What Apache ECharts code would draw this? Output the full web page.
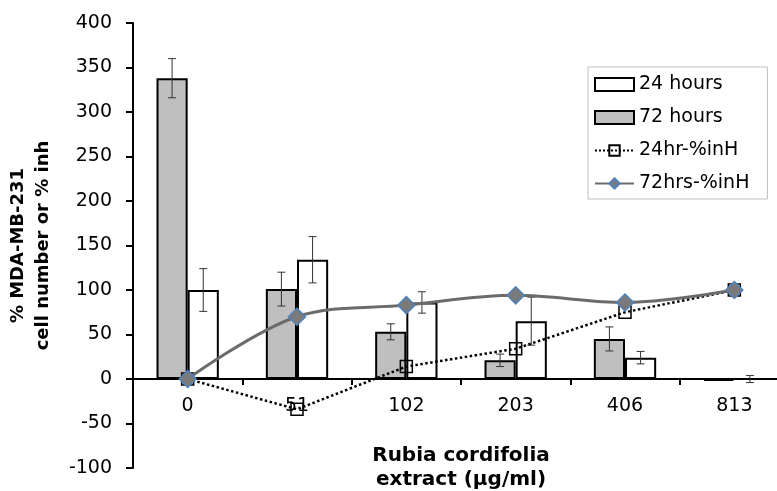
<!DOCTYPE html>
<html>
<head>
<meta charset="utf-8">
<script src="https://cdn.jsdelivr.net/npm/echarts@6/dist/echarts.min.js"></script>
<style>
html,body{margin:0;padding:0;background:#fff;}
#chart{width:777px;height:491px;}
</style>
</head>
<body>
<div id="chart"></div>
<script>
var categories = ['0', '51', '102', '203', '406', '813'];
var hours72 = [338, 101, 53, 21, 45, -2];
var hours72Err = [22, 19, 9, 7, 13.5, 0];
var hours24 = [100, 134, 86, 65, 24, 0];
var hours24Err = [24, 26, 12, 27, 7, 4];
var inh24 = [0, -34, 14, 34, 75, 100];
var inh72 = [0, 70, 83, 94, 86, 100];
var yTicks = { min: -100, max: 400, interval: 50 };

var FONT = 'DejaVu Sans';
var BAR_FRAC = 0.285; // bar width as fraction of category band

function errData(vals, errs) {
  return vals.map(function (v, i) { return [i, v, errs[i]]; });
}
function errRender(sign) {
  return function (params, api) {
    var i = api.value(0), v = api.value(1), e = api.value(2);
    if (!e) return null;
    var band = api.size([1, 0])[0];
    var c = api.coord([i, v]);
    var x = c[0] + sign * band * BAR_FRAC / 2;
    var hi = api.coord([i, v + e])[1];
    var lo = api.coord([i, v - e])[1];
    var cap = 4;
    var st = { stroke: '#333', lineWidth: 1 };
    return {
      type: 'group',
      children: [
        { type: 'line', shape: { x1: x, y1: hi, x2: x, y2: lo }, style: st },
        { type: 'line', shape: { x1: x - cap, y1: hi, x2: x + cap, y2: hi }, style: st },
        { type: 'line', shape: { x1: x - cap, y1: lo, x2: x + cap, y2: lo }, style: st }
      ]
    };
  };
}

var chart = echarts.init(document.getElementById('chart'), null, { renderer: 'canvas' });
chart.setOption({
  animation: false,
  backgroundColor: '#fff',
  grid: { left: 133, right: -12, top: 23, bottom: 23, containLabel: false, outerBoundsMode: 'none' },
  legend: {
    orient: 'vertical',
    left: 588,
    top: 67,
    padding: [8, 18, 6, 6],
    itemGap: 14,
    itemWidth: 39,
    itemHeight: 13,
    borderColor: '#bfbfbf',
    borderWidth: 1,
    backgroundColor: '#fff',
    textStyle: { fontFamily: FONT, fontSize: 19, color: '#000' },
    data: [
      { name: '24 hours', icon: 'rect' },
      { name: '72 hours', icon: 'rect' },
      { name: '24hr-%inH' },
      { name: '72hrs-%inH' }
    ]
  },
  xAxis: {
    type: 'category',
    data: categories,
    position: 'bottom',
    offset: -89,
    name: 'Rubia cordifolia\nextract (µg/ml)',
    nameLocation: 'middle',
    nameGap: 65,
    nameTextStyle: { fontFamily: FONT, fontSize: 20, fontWeight: 'bold', color: '#000', lineHeight: 24 },
    axisLine: { onZero: false, lineStyle: { color: '#000', width: 2 } },
    axisTick: { show: true, length: 6, lineStyle: { color: '#000', width: 2 } },
    axisLabel: { margin: 18, fontFamily: FONT, fontSize: 19, color: '#000' },
    splitLine: { show: false }
  },
  yAxis: {
    type: 'value',
    min: yTicks.min, max: yTicks.max, interval: yTicks.interval,
    name: '% MDA-MB-231\ncell number or % inh',
    nameLocation: 'middle',
    nameRotate: 90,
    nameGap: 77,
    nameTextStyle: { fontFamily: FONT, fontSize: 18, fontWeight: 'bold', color: '#000', lineHeight: 25 },
    axisLine: { show: true, onZero: false, lineStyle: { color: '#000', width: 2 } },
    axisTick: { show: true, length: 7, lineStyle: { color: '#000', width: 2 } },
    axisLabel: { margin: 21, fontFamily: FONT, fontSize: 19, color: '#000' },
    splitLine: { show: false }
  },
  series: [
    {
      name: '72 hours', type: 'bar', data: hours72,
      barGap: '0%', barCategoryGap: '43%',
      itemStyle: { color: '#bfbfbf', borderColor: '#000', borderWidth: 2 }
    },
    {
      name: '24 hours', type: 'bar', data: hours24,
      barGap: '0%', barCategoryGap: '43%',
      itemStyle: { color: '#ffffff', borderColor: '#000', borderWidth: 2 }
    },
    {
      name: '72h err', type: 'custom', data: errData(hours72, hours72Err),
      renderItem: errRender(-1), z: 3, silent: true
    },
    {
      name: '24h err', type: 'custom', data: errData(hours24, hours24Err),
      renderItem: errRender(1), z: 3, silent: true
    },
    {
      name: '24hr-%inH', type: 'line', data: inh24, z: 4,
      symbol: 'rect', symbolSize: 12,
      lineStyle: { color: '#000', width: 2.5, type: 'dotted' },
      itemStyle: { color: 'rgba(255,255,255,0)', borderColor: '#000', borderWidth: 1.5 }
    },
    {
      name: '72hrs-%inH', type: 'line', data: inh72, z: 5,
      smooth: 0.35,
      symbol: 'diamond', symbolSize: 17,
      lineStyle: { color: '#6b6b6b', width: 3 },
      itemStyle: { color: '#7a7a7a', borderColor: '#4f81bd', borderWidth: 1.5 }
    }
  ]
});
</script>
</body>
</html>
